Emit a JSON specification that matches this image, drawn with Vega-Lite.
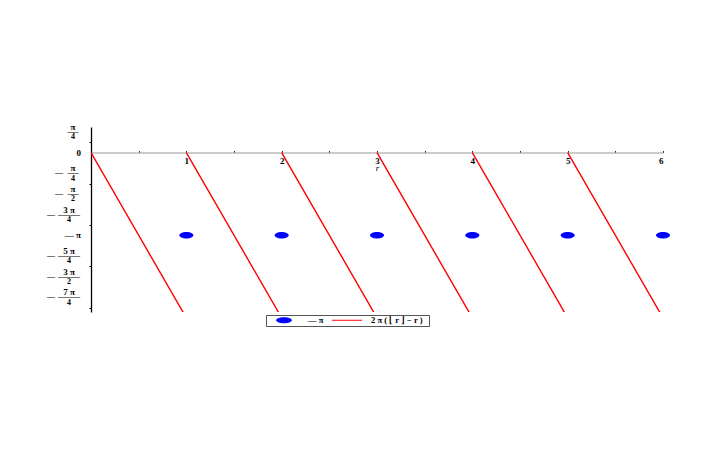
{
  "$schema": "https://vega.github.io/schema/vega-lite/v6.json",
  "autosize": {"type": "none"},
  "width": 572,
  "height": 185,
  "padding": {"left": 91, "top": 127, "right": 57, "bottom": 138},
  "background": "white",
  "config": {"view": {"stroke": null}, "font": "Liberation Serif"},
  "datasets": {
    "saw": [
      {"r": 0, "y": 0, "seg": 0, "series": "2 π ( ⌊ r ⌋  −  r )"}, {"r": 1, "y": -6.2832, "seg": 0, "series": "2 π ( ⌊ r ⌋  −  r )"},
      {"r": 1, "y": 0, "seg": 1, "series": "2 π ( ⌊ r ⌋  −  r )"}, {"r": 2, "y": -6.2832, "seg": 1, "series": "2 π ( ⌊ r ⌋  −  r )"},
      {"r": 2, "y": 0, "seg": 2, "series": "2 π ( ⌊ r ⌋  −  r )"}, {"r": 3, "y": -6.2832, "seg": 2, "series": "2 π ( ⌊ r ⌋  −  r )"},
      {"r": 3, "y": 0, "seg": 3, "series": "2 π ( ⌊ r ⌋  −  r )"}, {"r": 4, "y": -6.2832, "seg": 3, "series": "2 π ( ⌊ r ⌋  −  r )"},
      {"r": 4, "y": 0, "seg": 4, "series": "2 π ( ⌊ r ⌋  −  r )"}, {"r": 5, "y": -6.2832, "seg": 4, "series": "2 π ( ⌊ r ⌋  −  r )"},
      {"r": 5, "y": 0, "seg": 5, "series": "2 π ( ⌊ r ⌋  −  r )"}, {"r": 6, "y": -6.2832, "seg": 5, "series": "2 π ( ⌊ r ⌋  −  r )"}
    ],
    "dots": [
      {"r": 1, "y": -3.1416, "series": "— π"},
      {"r": 2, "y": -3.1416, "series": "— π"},
      {"r": 3, "y": -3.1416, "series": "— π"},
      {"r": 4, "y": -3.1416, "series": "— π"},
      {"r": 5, "y": -3.1416, "series": "— π"},
      {"r": 6, "y": -3.1416, "series": "— π"}
    ],
    "ylab": [
      {"v": 0.7854, "num": "π", "den": "4", "neg": false, "wide": false},
      {"v": 0, "whole": "0"},
      {"v": -0.7854, "num": "π", "den": "4", "neg": true, "wide": false},
      {"v": -1.5708, "num": "π", "den": "2", "neg": true, "wide": false},
      {"v": -2.3562, "num": "3 π", "den": "4", "neg": true, "wide": true},
      {"v": -3.1416, "whole": "— π"},
      {"v": -3.9270, "num": "5 π", "den": "4", "neg": true, "wide": true},
      {"v": -4.7124, "num": "3 π", "den": "2", "neg": true, "wide": true},
      {"v": -5.4978, "num": "7 π", "den": "4", "neg": true, "wide": true}
    ]
  },
  "layer": [
    {
      "data": {"name": "saw"},
      "mark": {"type": "line", "clip": true, "strokeWidth": 1.4},
      "encoding": {
        "x": {
          "field": "r", "type": "quantitative",
          "scale": {"domain": [0, 6], "nice": false, "zero": false},
          "axis": {
            "orient": "top", "offset": -25.5,
            "values": [0, 0.5, 1, 1.5, 2, 2.5, 3, 3.5, 4, 4.5, 5, 5.5, 6],
            "labelExpr": "datum.value > 0 && datum.value % 1 == 0 ? format(datum.value, 'd') : ''",
            "grid": false, "domainColor": "#999999", "domainWidth": 1.2,
            "tickColor": "#333333", "tickSize": 2, "tickWidth": 1,
            "labelBaseline": "top", "labelPadding": -6,
            "labelFont": "Liberation Serif", "labelFontSize": 9, "labelColor": "#000000",
            "labelFontWeight": "bold",
            "title": "r", "titleFont": "Liberation Serif", "titleFontStyle": "italic", "titleFontWeight": "normal",
            "titleFontSize": 9, "titleColor": "#000000", "titleBaseline": "top", "titleY": 11
          }
        },
        "y": {
          "field": "y", "type": "quantitative",
          "scale": {"domain": [-6.06, 0.97], "nice": false, "zero": false},
          "axis": {
            "orient": "left",
            "values": [-5.8905, -5.6941, -5.4978, -5.3014, -5.1051, -4.9087, -4.7124, -4.5160, -4.3197, -4.1233, -3.9270, -3.7306, -3.5343, -3.3379, -3.1416, -2.9452, -2.7489, -2.5525, -2.3562, -2.1598, -1.9635, -1.7671, -1.5708, -1.3744, -1.1781, -0.9817, -0.7854, -0.5890, -0.3927, -0.1963, 0, 0.1963, 0.3927, 0.5890, 0.7854],
            "labels": true, "labelExpr": "''", "grid": false, "title": null,
            "domainColor": "#000000", "domainWidth": 1.3,
            "tickColor": "#000000", "tickWidth": 1,
            "tickSize": {"condition": {"test": "abs(datum.value / 0.7854 - round(datum.value / 0.7854)) < 0.01", "value": 4}, "value": 2}
          }
        },
        "detail": {"field": "seg"},
        "color": {
          "field": "series", "type": "nominal",
          "scale": {"domain": ["— π", "2 π ( ⌊ r ⌋  −  r )"], "range": ["#0000ff", "#ff0000"]},
          "legend": {
            "title": null, "orient": "none", "legendX": 175, "legendY": 188, "direction": "horizontal",
            "strokeColor": "#555555", "fillColor": "#ffffff", "padding": 1,
            "labelFont": "Liberation Serif", "labelFontSize": 8.5, "labelColor": "#000000", "labelFontWeight": "bold",
            "symbolSize": 100, "symbolOffset": 1.5, "labelOffset": 8.5, "columnPadding": 6, "clipHeight": 8,
            "encode": {"symbols": {"update": {
              "fill": {"scale": "color", "field": "value"},
              "stroke": {"scale": "color", "field": "value"},
              "strokeWidth": {"value": 1},
              "size": {"value": 900},
              "opacity": {"value": 1}
            }}}
          }
        },
        "shape": {
          "field": "series", "type": "nominal",
          "scale": {"domain": ["— π", "2 π ( ⌊ r ⌋  −  r )"], "range": ["M-0.5,0A0.5,0.17 0 1,0 0.5,0A0.5,0.17 0 1,0 -0.5,0Z", "stroke"]}
        }
      }
    },
    {
      "data": {"name": "dots"},
      "mark": {"type": "point", "filled": true, "size": 625, "opacity": 1, "shape": "M-0.56,0A0.56,0.26 0 1,0 0.56,0A0.56,0.26 0 1,0 -0.56,0Z"},
      "encoding": {
        "x": {"field": "r", "type": "quantitative"},
        "y": {"field": "y", "type": "quantitative"},
        "color": {"field": "series", "type": "nominal"}
      }
    },
    {
      "data": {"name": "ylab"},
      "transform": [{"filter": "datum.whole != null"}],
      "mark": {"type": "text", "align": "right", "baseline": "middle", "dx": -10, "fontSize": 9, "fontWeight": "bold", "font": "Liberation Serif", "color": "#000000"},
      "encoding": {
        "x": {"datum": 0, "type": "quantitative"},
        "y": {"field": "v", "type": "quantitative"},
        "text": {"field": "whole"}
      }
    },
    {
      "data": {"name": "ylab"},
      "transform": [{"filter": "datum.num != null && !datum.wide"}],
      "layer": [
        {"mark": {"type": "text", "align": "center", "baseline": "alphabetic", "dx": -18, "dy": -2, "fontSize": 9, "fontWeight": "bold", "font": "Liberation Serif", "color": "#000000"},
         "encoding": {"text": {"field": "num"}}},
        {"mark": {"type": "text", "align": "center", "baseline": "middle", "dx": -18, "dy": 0, "fontSize": 11, "font": "Liberation Serif", "color": "#000000", "text": "—"}},
        {"mark": {"type": "text", "align": "center", "baseline": "top", "dx": -18, "dy": 1.5, "fontSize": 8, "fontWeight": "bold", "font": "Liberation Serif", "color": "#000000"},
         "encoding": {"text": {"field": "den"}}},
        {"transform": [{"filter": "datum.neg"}],
         "mark": {"type": "text", "align": "center", "baseline": "middle", "dx": -32, "fontSize": 8, "font": "Liberation Serif", "color": "#000000", "text": "—"}}
      ],
      "encoding": {
        "x": {"datum": 0, "type": "quantitative"},
        "y": {"field": "v", "type": "quantitative"}
      }
    },
    {
      "data": {"name": "ylab"},
      "transform": [{"filter": "datum.num != null && datum.wide"}],
      "layer": [
        {"mark": {"type": "text", "align": "center", "baseline": "alphabetic", "dx": -22, "dy": -2, "fontSize": 9, "fontWeight": "bold", "font": "Liberation Serif", "color": "#000000"},
         "encoding": {"text": {"field": "num"}}},
        {"mark": {"type": "text", "align": "center", "baseline": "middle", "dx": -22, "dy": 0, "fontSize": 11, "font": "Liberation Serif", "color": "#000000", "text": "——"}},
        {"mark": {"type": "text", "align": "center", "baseline": "top", "dx": -22, "dy": 1.5, "fontSize": 8, "fontWeight": "bold", "font": "Liberation Serif", "color": "#000000"},
         "encoding": {"text": {"field": "den"}}},
        {"mark": {"type": "text", "align": "center", "baseline": "middle", "dx": -40, "fontSize": 8, "font": "Liberation Serif", "color": "#000000", "text": "—"}}
      ],
      "encoding": {
        "x": {"datum": 0, "type": "quantitative"},
        "y": {"field": "v", "type": "quantitative"}
      }
    }
  ]
}
